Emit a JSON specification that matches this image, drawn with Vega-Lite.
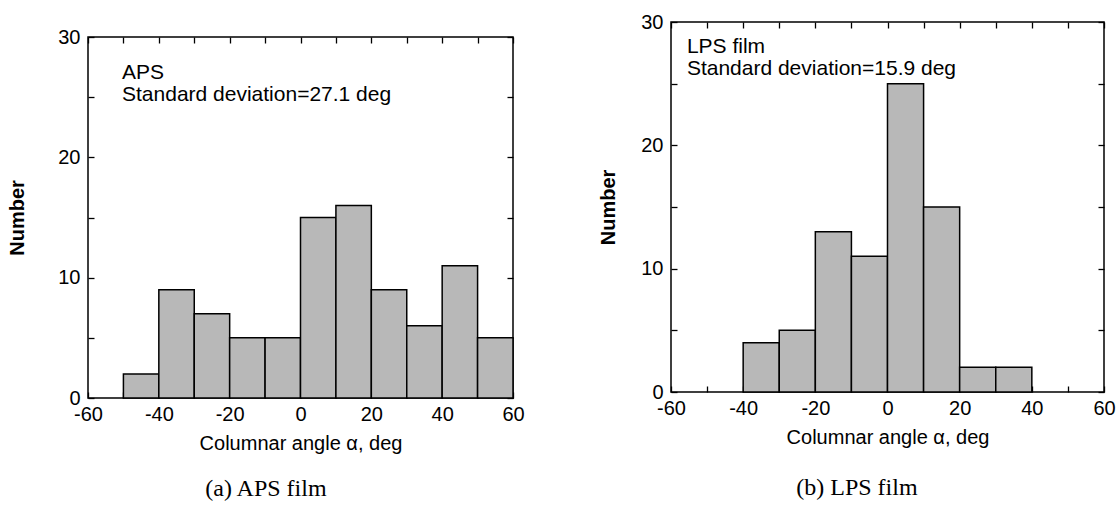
{
  "$schema": "https://vega.github.io/schema/vega-lite/v6.json",
  "padding": {"left": 7, "top": 11, "right": 0, "bottom": 0},
  "background": "white",
  "config": {
    "font": "Liberation Sans",
    "view": {"stroke": "black", "strokeWidth": 1.5},
    "axis": {"grid": false, "domain": false, "tickColor": "black", "tickWidth": 1.3, "labelColor": "black", "titleColor": "black", "labelFont": "Liberation Sans", "titleFont": "Liberation Sans"}
  },
  "datasets": {
    "aps": [
      {"start": -50, "end": -40, "count": 2},
      {"start": -40, "end": -30, "count": 9},
      {"start": -30, "end": -20, "count": 7},
      {"start": -20, "end": -10, "count": 5},
      {"start": -10, "end": 0, "count": 5},
      {"start": 0, "end": 10, "count": 15},
      {"start": 10, "end": 20, "count": 16},
      {"start": 20, "end": 30, "count": 9},
      {"start": 30, "end": 40, "count": 6},
      {"start": 40, "end": 50, "count": 11},
      {"start": 50, "end": 60, "count": 5}
    ],
    "lps": [
      {"start": -40, "end": -30, "count": 4},
      {"start": -30, "end": -20, "count": 5},
      {"start": -20, "end": -10, "count": 13},
      {"start": -10, "end": 0, "count": 11},
      {"start": 0, "end": 10, "count": 25},
      {"start": 10, "end": 20, "count": 15},
      {"start": 20, "end": 30, "count": 2},
      {"start": 30, "end": 40, "count": 2}
    ]
  },
  "spacing": 73,
  "hconcat": [
    {
      "title": {"text": "(a) APS film", "orient": "bottom", "anchor": "middle", "font": "Liberation Serif", "fontSize": 24, "fontWeight": "normal", "color": "black", "offset": 23},
      "spacing": -2,
      "vconcat": [
        {
          "width": 425,
          "height": 1,
          "view": {"stroke": null},
          "data": {"values": [{}]},
          "mark": {"type": "text", "text": ""},
          "encoding": {}
        },
        {
          "width": 425,
          "height": 361,
          "data": {"name": "aps"},
          "resolve": {"axis": {"x": "independent", "y": "independent"}},
          "layer": [
            {
              "mark": {"type": "bar", "fill": "#b8b8b8", "stroke": "black", "strokeWidth": 1.5},
              "encoding": {
                "x": {"field": "start", "type": "quantitative", "scale": {"domain": [-60, 60], "nice": false, "zero": false},
                  "axis": {"orient": "bottom", "values": [-60,-50,-40,-30,-20,-10,0,10,20,30,40,50,60], "labelExpr": "datum.value % 20 === 0 ? '' + datum.value : ''", "tickSize": -6, "labelPadding": 12, "labelFontSize": 20, "labelFlush": false, "labelOverlap": false, "title": "Columnar angle α, deg", "titleFontSize": 20, "titleFontWeight": "normal", "titlePadding": 9}},
                "x2": {"field": "end"},
                "y": {"field": "count", "type": "quantitative", "scale": {"domain": [0, 30], "nice": false},
                  "axis": {"orient": "left", "values": [0,5,10,15,20,25,30], "labelExpr": "datum.value % 10 === 0 ? '' + datum.value : ''", "tickSize": -6, "labelPadding": 14, "labelFontSize": 20, "labelOverlap": false, "title": "Number", "titleFontSize": 20, "titleFontWeight": "bold", "titlePadding": 30}},
                "y2": {"datum": 0}
              }
            },
            {
              "mark": {"type": "bar", "opacity": 0},
              "encoding": {
                "x": {"field": "start", "type": "quantitative", "axis": {"orient": "top", "values": [-60,-50,-40,-30,-20,-10,0,10,20,30,40,50,60], "labels": false, "tickSize": -6, "title": null}},
                "x2": {"field": "end"},
                "y": {"field": "count", "type": "quantitative", "axis": {"orient": "right", "values": [0,5,10,15,20,25,30], "labels": false, "tickSize": -6, "title": null}},
                "y2": {"datum": 0}
              }
            },
            {
              "data": {"values": [{}]},
              "mark": {"type": "text", "align": "left", "baseline": "top", "fontSize": 21, "lineHeight": 22, "fill": "black", "font": "Liberation Sans"},
              "encoding": {
                "x": {"datum": -50.4, "type": "quantitative", "axis": null},
                "y": {"datum": 27.95, "type": "quantitative", "axis": null},
                "text": {"value": ["APS", "Standard deviation=27.1 deg"]}
              }
            }
          ]
        }
      ]
    },
    {
      "title": {"text": "(b) LPS film", "orient": "bottom", "anchor": "middle", "font": "Liberation Serif", "fontSize": 24, "fontWeight": "normal", "color": "black", "offset": 28},
      "vconcat": [
        {
          "width": 433,
          "height": 370,
          "data": {"name": "lps"},
          "resolve": {"axis": {"x": "independent", "y": "independent"}},
          "layer": [
            {
              "mark": {"type": "bar", "fill": "#b8b8b8", "stroke": "black", "strokeWidth": 1.5},
              "encoding": {
                "x": {"field": "start", "type": "quantitative", "scale": {"domain": [-60, 60], "nice": false, "zero": false},
                  "axis": {"orient": "bottom", "values": [-60,-50,-40,-30,-20,-10,0,10,20,30,40,50,60], "labelExpr": "datum.value % 20 === 0 ? '' + datum.value : ''", "tickSize": -6, "labelPadding": 12, "labelFontSize": 20, "labelFlush": false, "labelOverlap": false, "title": "Columnar angle α, deg", "titleFontSize": 20, "titleFontWeight": "normal", "titlePadding": 9}},
                "x2": {"field": "end"},
                "y": {"field": "count", "type": "quantitative", "scale": {"domain": [0, 30], "nice": false},
                  "axis": {"orient": "left", "values": [0,5,10,15,20,25,30], "labelExpr": "datum.value % 10 === 0 ? '' + datum.value : ''", "tickSize": -6, "labelPadding": 14, "labelFontSize": 20, "labelOverlap": false, "title": "Number", "titleFontSize": 20, "titleFontWeight": "bold", "titlePadding": 22}},
                "y2": {"datum": 0}
              }
            },
            {
              "mark": {"type": "bar", "opacity": 0},
              "encoding": {
                "x": {"field": "start", "type": "quantitative", "axis": {"orient": "top", "values": [-60,-50,-40,-30,-20,-10,0,10,20,30,40,50,60], "labels": false, "tickSize": -6, "title": null}},
                "x2": {"field": "end"},
                "y": {"field": "count", "type": "quantitative", "axis": {"orient": "right", "values": [0,5,10,15,20,25,30], "labels": false, "tickSize": -6, "title": null}},
                "y2": {"datum": 0}
              }
            },
            {
              "data": {"values": [{}]},
              "mark": {"type": "text", "align": "left", "baseline": "top", "fontSize": 21, "lineHeight": 22, "fill": "black", "font": "Liberation Sans"},
              "encoding": {
                "x": {"datum": -55.6, "type": "quantitative", "axis": null},
                "y": {"datum": 28.9, "type": "quantitative", "axis": null},
                "text": {"value": ["LPS film", "Standard deviation=15.9 deg"]}
              }
            }
          ]
        }
      ]
    }
  ]
}
